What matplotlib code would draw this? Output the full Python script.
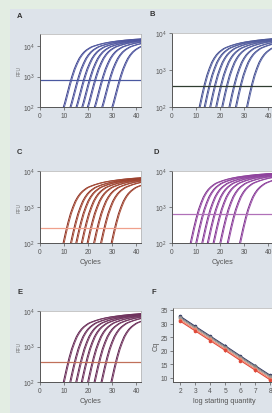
import numpy as np
import matplotlib
matplotlib.use("Agg")
import matplotlib.pyplot as plt
from matplotlib.patches import Rectangle

plt.rcParams['font.family'] = ['Liberation Sans', 'DejaVu Sans']

# amplification curve shape (RFU vs cycles after threshold crossing)
template_rel = [-3, -2, -1, 0, 1, 2, 3, 4, 5, 6, 7, 8, 9, 10, 11, 12, 14, 16, 18, 20, 22, 25, 28, 32, 36]
template_rfu = [15, 30, 55, 100, 200, 400, 750, 1300, 2000, 2900, 3800, 4700, 5500, 6200, 6900, 7400,
                8300, 9100, 9800, 10400, 10900, 11600, 12200, 12800, 13300]

# cycle where each curve leaves the bottom of the plot (RFU = 100)
start_A = [9.7, 12.5, 15.0, 17.4, 19.7, 22.6, 25.7, 29.9]
start_B = [11.3, 13.4, 15.7, 18.2, 20.7, 23.7, 26.4, 31.0]
start_C = [9.6, 12.7, 14.9, 17.2, 19.6, 22.3, 25.2, 29.6]
start_D = [7.6, 9.9, 12.4, 14.7, 17.1, 19.9, 23.0, 28.1]
start_E = [9.7, 12.4, 14.9, 17.2, 19.8, 22.5, 25.4, 29.5]
replicate_shift = [0.0, 0.45]

plateau_scale = {"A": 1.35, "B": 0.55, "C": 0.5, "D": 0.65, "E": 0.65}
threshold = {"A": 800, "B": 360, "C": 260, "D": 630, "E": 360}
ytop = {"A": 25000, "B": 10000, "C": 10000, "D": 10000, "E": 10000}

curve_col = {"A": ["#3a3f8c", "#5a62a8"], "B": ["#3b4688", "#5b66a6"],
             "C": ["#8a2a1c", "#a8503a"], "D": ["#7a2c8a", "#9a50a8"],
             "E": ["#5a1e4c", "#7a3e66"]}
thr_col = {"A": "#4a58a0", "B": "#2f3d30", "C": "#f0a08c", "D": "#b070b8", "E": "#c0705a"}

# panel F: Cq against log starting quantity
log_qty = [2, 3, 4, 5, 6, 7, 8]
cq_A = [32.7, 29.0, 25.4, 21.8, 18.1, 14.5, 10.9]
cq_B = [32.3, 28.7, 25.1, 21.5, 17.8, 14.2, 10.6]
cq_D = [31.9, 28.3, 24.7, 21.1, 17.4, 13.8, 10.2]
cq_E = [31.4, 27.8, 24.2, 20.6, 16.9, 13.3, 9.7]
cq_C = [30.9, 27.3, 23.7, 20.1, 16.4, 12.8, 9.2]
cq_err = [0.5, 0.5, 0.5, 0.5, 0.5, 0.5, 0.5]

W, H = 272, 414
fig = plt.figure(figsize=(W / 100, H / 100), dpi=100)
fig.patch.set_facecolor("#e3ede3")
fig.patches.append(Rectangle((10 / W, 0), 1, 1 - 10 / H, transform=fig.transFigure,
                             facecolor="#dde3ea", edgecolor="none", zorder=-10))


def box(l, t, r, b):
    return [l / W, 1 - b / H, (r - l) / W, (b - t) / H]


def style(ax):
    ax.set_facecolor("white")
    for s in ["left", "bottom"]:
        ax.spines[s].set_color("#555555")
        ax.spines[s].set_linewidth(0.7)
    for s in ["top", "right"]:
        ax.spines[s].set_color("#b0b0b0")
        ax.spines[s].set_linewidth(0.5)
    ax.tick_params(labelsize=4.8, colors="#555555", length=2, width=0.5, pad=1.5)
    ax.tick_params(which="minor", length=0)


panels = {"A": (start_A, box(40, 35, 141, 108)),
          "B": (start_B, box(172, 34, 273, 108)),
          "C": (start_C, box(40, 172, 141, 244)),
          "D": (start_D, box(172, 172, 273, 244)),
          "E": (start_E, box(40, 312, 141, 383))}

rel = np.array(template_rel, dtype=float)
rfu = np.array(template_rfu, dtype=float)

for name, (starts, pos) in panels.items():
    ax = fig.add_axes(pos)
    s = plateau_scale[name]
    rel100 = np.interp(np.log(100 / s), np.log(rfu), rel)
    for st in starts:
        for k, dsh in enumerate(replicate_shift):
            ax.plot(st + dsh - rel100 + rel, rfu * s, color=curve_col[name][k], lw=0.7)
    ax.axhline(threshold[name], color=thr_col[name], lw=0.9)
    ax.set_yscale("log")
    ax.set_ylim(100, ytop[name])
    ax.set_xlim(0, 42)
    ax.set_xticks([0, 10, 20, 30, 40])
    ax.set_yticks([100, 1000, 10000])
    style(ax)
    if name in ("A", "C", "E"):
        ax.set_ylabel("RFU", fontsize=3.5, color="#777777", labelpad=1)
    if name in ("C", "D", "E"):
        ax.set_xlabel("Cycles", fontsize=5.2, color="#555555", labelpad=2)

axf = fig.add_axes(box(173, 309, 275, 383))
for cq, col in [(cq_A, "#2c3566"), (cq_B, "#777777"), (cq_D, "#999999"),
                (cq_E, "#f08a70"), (cq_C, "#e04a3a")]:
    axf.errorbar(log_qty, cq, yerr=cq_err, color=col, lw=0.8, marker="o", ms=1.6,
                 elinewidth=0.6, capsize=0)
axf.set_xlim(1.53, 8.3)
axf.set_ylim(8.5, 35.7)
axf.set_xticks(log_qty)
axf.set_yticks([10, 15, 20, 25, 30, 35])
style(axf)
axf.set_ylabel("Cq", fontsize=5.2, color="#555555", labelpad=1)
axf.set_xlabel("log starting quantity", fontsize=5.2, color="#555555", labelpad=2)

for letter, x, y in [("A", 17, 16), ("B", 150, 15), ("C", 17, 153), ("D", 153, 153),
                     ("E", 17, 293), ("F", 152, 292)]:
    fig.text(x / W, 1 - y / H, letter, fontsize=5.5, fontweight="bold", color="#333333",
             va="center")

fig.savefig("out.png", dpi=100, facecolor=fig.get_facecolor())
